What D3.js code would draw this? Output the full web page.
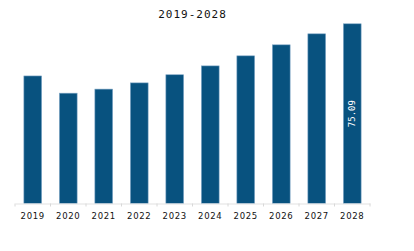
<!DOCTYPE html>
<html>
<head>
<meta charset="utf-8">
<script src="https://cdn.jsdelivr.net/npm/d3@7"></script>
<style>
  body { margin: 0; background: #fff; }
</style>
</head>
<body>
<div id="chart"></div>
<script>
var years = ["2019", "2020", "2021", "2022", "2023", "2024", "2025", "2026", "2027", "2028"];
var values = [53.3, 46.1, 47.8, 50.4, 53.8, 57.5, 61.7, 66.3, 70.9, 75.09];
var labelYear = "2028";
var chartTitle = "2019-2028";

var data = years.map(function (y, i) { return { year: y, value: values[i] }; });

// set the dimensions and margins of the graph
var margin = { top: 23, right: 44, bottom: 47.5, left: 15 },
    width = 414 - margin.left - margin.right,
    height = 251 - margin.top - margin.bottom;

var svg = d3.select("#chart")
    .append("svg")
    .attr("width", 414)
    .attr("height", 251)
    .append("g")
    .attr("transform", "translate(" + margin.left + "," + margin.top + ")");

var x = d3.scaleBand()
    .domain(years)
    .range([0, width])
    .paddingInner(0.5)
    .paddingOuter(0.25);

var y = d3.scaleLinear()
    .domain([0, 75.09])
    .range([height, 0.8]);

// title
svg.append("text")
    .attr("x", width / 2)
    .attr("y", -5)
    .attr("text-anchor", "middle")
    .style("font-family", "DejaVu Sans Mono")
    .style("font-size", "11px")
    .style("letter-spacing", "1px")
    .style("fill", "#111")
    .text(chartTitle);

// bars
svg.selectAll("rect.bar")
    .data(data)
    .enter()
    .append("rect")
    .attr("class", "bar")
    .attr("x", function (d) { return x(d.year); })
    .attr("y", function (d) { return y(d.value); })
    .attr("width", x.bandwidth())
    .attr("height", function (d) { return height - y(d.value); })
    .style("fill", "#08527f")
    .style("stroke", "#7fa7c6")
    .style("stroke-width", 0.6);

// X axis
var xAxis = svg.append("g")
    .attr("transform", "translate(0," + height + ")")
    .call(d3.axisBottom(x).tickSize(0));
xAxis.select(".domain").attr("stroke", "#e2e2e2").attr("stroke-width", 1.2);
xAxis.selectAll("text")
    .attr("dy", "1.45em")
    .style("font-family", "DejaVu Sans")
    .style("font-size", "8.5px")
    .style("letter-spacing", "0.7px")
    .style("fill", "#111");

// boundary ticks between categories
var step = x.step();
var bounds = d3.range(years.length + 1).map(function (i) { return i * step; });
svg.selectAll("line.btick")
    .data(bounds)
    .enter()
    .append("line")
    .attr("class", "btick")
    .attr("x1", function (d) { return d; })
    .attr("x2", function (d) { return d; })
    .attr("y1", height)
    .attr("y2", height + 3)
    .attr("stroke", "#d8d8d8");

// value label on last bar
var last = data.filter(function (d) { return d.year === labelYear; })[0];
var cx = x(last.year) + x.bandwidth() / 2;
var cy = (y(last.value) + height) / 2;
svg.append("text")
    .attr("transform", "translate(" + cx + "," + cy + ") rotate(-90)")
    .attr("text-anchor", "middle")
    .attr("dy", "0.35em")
    .style("font-family", "DejaVu Sans Mono")
    .style("font-size", "9px")
    .style("fill", "#fff")
    .text(last.value.toFixed(2));
</script>
</body>
</html>
